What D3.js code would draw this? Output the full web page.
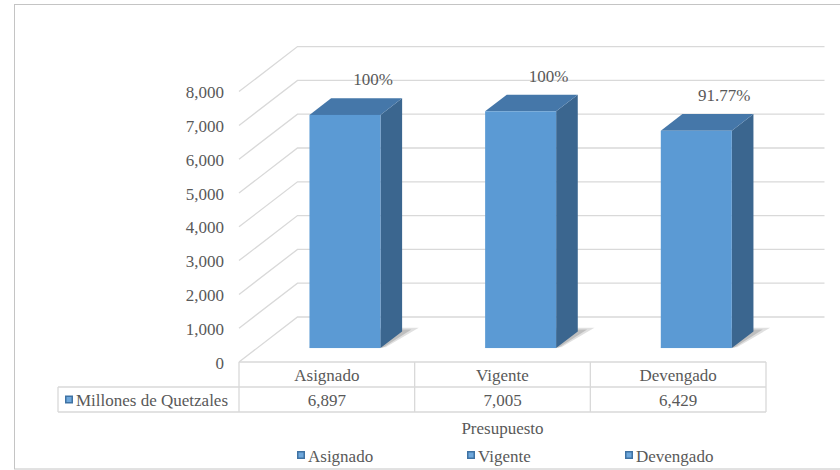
<!DOCTYPE html>
<html><head><meta charset="utf-8">
<script src="https://cdn.jsdelivr.net/npm/d3@7"></script>
</head>
<body style="margin:0;background:#fff">
<svg id="c" width="840" height="470" font-family="Liberation Serif"></svg>
<script>
const categories = ["Asignado", "Vigente", "Devengado"];
const values = [6897, 7005, 6429];
const valueLabels = ["6,897", "7,005", "6,429"];
const pctLabels = ["100%", "100%", "91.77%"];
const yTicks = [0, 1000, 2000, 3000, 4000, 5000, 6000, 7000, 8000];
const seriesName = "Millones de Quetzales";
const axisTitle = "Presupuesto";

const svg = d3.select("#c");
const TXT = "#595959", GRID = "#d9d9d9";

const left = 239, right = 766, floorY = 362;
const DX = 58.5, DY = 45;
const f0 = 0.31, f1 = 0.68;

const x = d3.scaleBand().domain(categories).range([left, right]).padding(0);
const y = d3.scaleLinear().domain([0, 8000]).range([0, 270.4]);
const legendX = d3.scaleOrdinal().domain(categories).range([297, 467, 625]);

function P(px, v, f) { return [px + DX * f, floorY - y(v) - DY * f]; }
function txt(sel) { return sel.attr("font-size", 17).attr("font-family", "Liberation Serif").attr("fill", TXT); }

// outer border
svg.append("rect").attr("x", 14.5).attr("y", 4.5).attr("width", 840).attr("height", 464.5)
  .attr("fill", "none").attr("stroke", "#c4c4c4").attr("stroke-width", 1);

// gridlines
const grid = svg.append("g");
yTicks.forEach(t => {
  grid.append("path").attr("d", d3.line()([P(left, t, 0), P(left, t, 1), P(right, t, 1)]))
    .attr("fill", "none").attr("stroke", GRID).attr("stroke-width", 1.3);
});

// y tick labels
yTicks.forEach(t => {
  txt(svg.append("text")).attr("x", 224).attr("y", P(left, t, 0)[1] + 6.5)
    .attr("text-anchor", "end").text(d3.format(",")(t));
});

// bars
const barW = 71;
categories.forEach((c, i) => {
  const v = values[i];
  const x0 = x(c) + x.bandwidth() / 2 - barW / 2;
  const x1 = x0 + barW;
  const s1 = [P(x0 - 2, 0, f0 + 0.02), P(x1 + 4, 0, f0 + 0.02), P(x1 + 12, 0, f1 + 0.08), P(x0 + 8, 0, f1 + 0.08)];
  svg.append("path").attr("d", d3.line()(s1) + "Z").attr("fill", "#000").attr("opacity", 0.12);
  const s2 = [P(x0, 0, f0), P(x1 + 2, 0, f0), P(x1 + 7, 0, f1 + 0.04), P(x0 + 4, 0, f1 + 0.04)];
  svg.append("path").attr("d", d3.line()(s2) + "Z").attr("fill", "#000").attr("opacity", 0.15);
  svg.append("path").attr("d", d3.line()([P(x1, 0, f0), P(x1, 0, f1), P(x1, v, f1), P(x1, v, f0)]) + "Z")
    .attr("fill", "#3b668f");
  svg.append("path").attr("d", d3.line()([P(x0, v, f0), P(x1, v, f0), P(x1, v, f1), P(x0, v, f1)]) + "Z")
    .attr("fill", "#4577a9");
  const tl = P(x0, v, f0), br = P(x1, 0, f0);
  svg.append("rect").attr("x", tl[0]).attr("y", tl[1]).attr("width", br[0] - tl[0]).attr("height", br[1] - tl[1])
    .attr("fill", "#5b9ad4");
  txt(svg.append("text")).attr("x", (tl[0] + br[0]) / 2 + 28).attr("y", tl[1] - 29.5)
    .attr("text-anchor", "middle").text(pctLabels[i]);
});

// data table
const rowTop = floorY, rowMid = 387, rowBot = 412, labLeft = 58;
svg.append("path")
  .attr("d", `M${left},${rowTop}H${right}M${labLeft},${rowMid}H${right}M${labLeft},${rowBot}H${right}M${labLeft},${rowMid}V${rowBot}`)
  .attr("fill", "none").attr("stroke", GRID).attr("stroke-width", 1.3);
[left, ...categories.map(c => x(c) + x.bandwidth())].forEach(px => {
  svg.append("path").attr("d", `M${px},${rowTop}V${rowBot}`).attr("fill", "none").attr("stroke", GRID).attr("stroke-width", 1.3);
});
categories.forEach((c, i) => {
  txt(svg.append("text")).attr("x", x(c) + x.bandwidth() / 2).attr("y", (rowTop + rowMid) / 2 + 6.5)
    .attr("text-anchor", "middle").text(c);
  txt(svg.append("text")).attr("x", x(c) + x.bandwidth() / 2).attr("y", (rowMid + rowBot) / 2 + 6.5)
    .attr("text-anchor", "middle").text(valueLabels[i]);
});
function marker(mx, my) {
  svg.append("rect").attr("x", mx).attr("y", my - 4).attr("width", 8).attr("height", 8)
    .attr("fill", "#3f72a3");
  svg.append("rect").attr("x", mx + 1.5).attr("y", my - 2.5).attr("width", 5).attr("height", 5).attr("fill", "#6fa8dc");
}
marker(65, (rowMid + rowBot) / 2);
txt(svg.append("text")).attr("x", 76).attr("y", (rowMid + rowBot) / 2 + 6.5).text(seriesName);

// axis title
txt(svg.append("text")).attr("x", (left + right) / 2).attr("y", 433.5).attr("text-anchor", "middle").text(axisTitle);

// legend
categories.forEach(c => {
  marker(legendX(c), 455);
  txt(svg.append("text")).attr("x", legendX(c) + 11).attr("y", 461.5).text(c);
});
</script>
</body></html>
